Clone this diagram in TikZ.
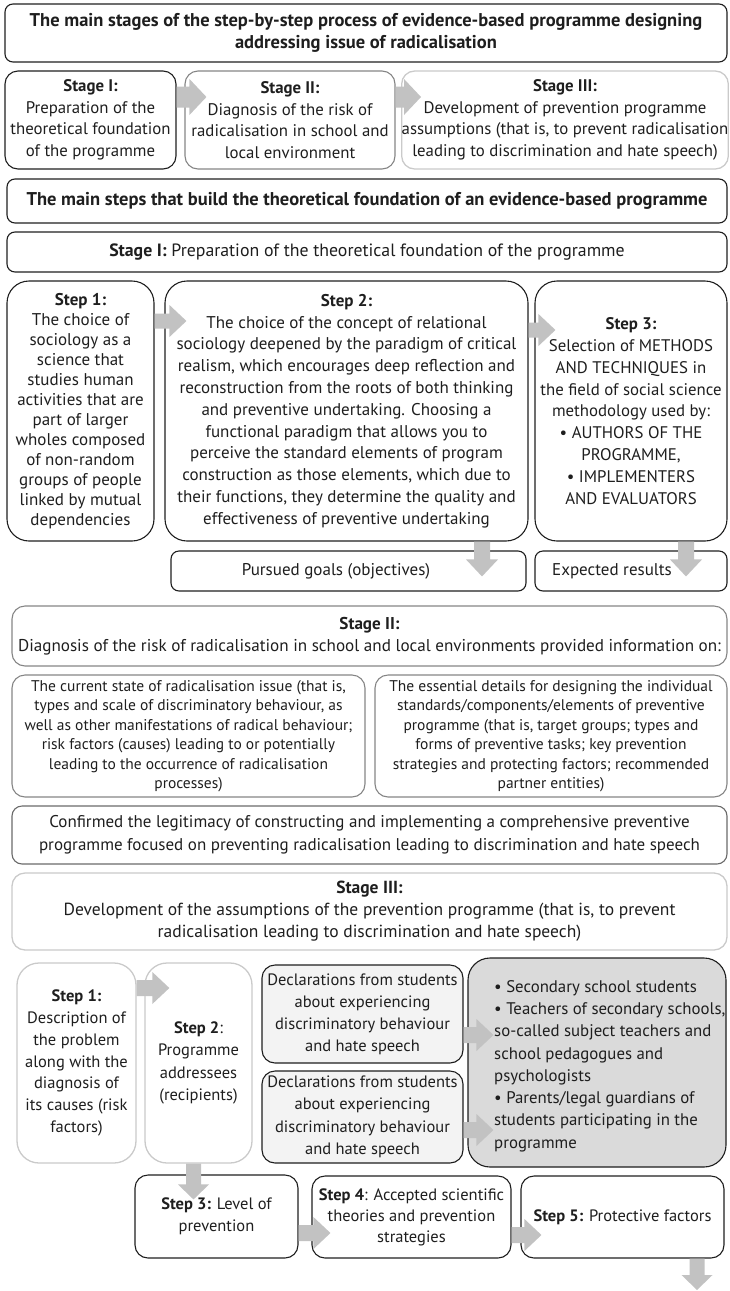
\documentclass[tikz,border=0pt]{standalone}
\usepackage{fontspec}
\setmainfont{PT Sans}
\usetikzlibrary{calc}

\definecolor{ink}{HTML}{1E1E1E}
\definecolor{arrowgray}{HTML}{C2C2C2}
\definecolor{midline}{HTML}{858585}
\definecolor{darkline}{HTML}{6A6A6A}
\definecolor{paleline}{HTML}{CACACA}
\definecolor{declfill}{HTML}{F3F3F3}
\definecolor{groupfill}{HTML}{DADADA}

\tikzset{
  panel/.style={draw=ink, line width=1.1pt, rounded corners=9pt, inner sep=0pt,
    align=center, text=ink, font=\fontsize{17}{21}\selectfont},
  headfont/.style={font=\fontsize{18.5}{22}\bfseries\selectfont},
  biground/.style={rounded corners=22pt},
  midround/.style={rounded corners=13pt},
  greyedge/.style={draw=midline},
  darkedge/.style={draw=darkline},
  paleedge/.style={draw=paleline, line width=1.3pt},
  plaintext/.style={inner sep=0pt, text=ink, font=\fontsize{17}{21}\selectfont},
}

% box given by its corners: [style]{name}{x1}{y1}{x2}{y2}{text}
\newcommand\panelbox[7][]{%
  \pgfmathsetmacro\pw{#5-#3}\pgfmathsetmacro\ph{#6-#4}%
  \node[panel,#1,minimum width=\pw pt,minimum height=\ph pt] (#2)
    at ({(#3+#5)/2},{(#4+#6)/2}) {#7};}

% right-pointing block arrow: {start}{tip}{body half}{head half}{head length}
\newcommand\rightblock[5]{%
  \fill[arrowgray] let \p1=(#1), \p2=(#2) in
    (\x1,\y1+#3pt) -- (\x2-#5pt,\y1+#3pt) -- (\x2-#5pt,\y1+#4pt) -- (\x2,\y1)
    -- (\x2-#5pt,\y1-#4pt) -- (\x2-#5pt,\y1-#3pt) -- (\x1,\y1-#3pt) -- cycle;}
% downward block arrow: {start}{tip}{body half}{head half}{head length}
\newcommand\downblock[5]{%
  \fill[arrowgray] let \p1=(#1), \p2=(#2) in
    (\x1-#3pt,\y1) -- (\x1-#3pt,\y2+#5pt) -- (\x1-#4pt,\y2+#5pt) -- (\x1,\y2)
    -- (\x1+#4pt,\y2+#5pt) -- (\x1+#3pt,\y2+#5pt) -- (\x1+#3pt,\y1) -- cycle;}

\begin{document}
\begin{tikzpicture}[x=1pt,y=-1pt]
\useasboundingbox (0,0) rectangle (730,1291);

% ---------- overview of the three stages ----------
\panelbox[headfont,rounded corners=8pt]{title}{5}{4}{727}{62}{The main stages of the step-by-step process of evidence-based programme designing\\addressing issue of radicalisation}
\panelbox[midround,font=\fontsize{16.8}{21.5}\selectfont]{st1}{5}{71}{176}{169}{\textbf{Stage I:}\\Preparation of the\\theoretical foundation\\of the programme}
\panelbox[midround,greyedge,font=\fontsize{16.8}{21.5}\selectfont]{st2}{185}{71}{395}{169}{\textbf{Stage II:}\\Diagnosis of the risk of\\radicalisation in school and\\local environment}
\panelbox[midround,paleedge,font=\fontsize{16.8}{21.5}\selectfont]{st3}{403}{71}{727}{169}{\textbf{Stage III:}\\Development of prevention programme\\assumptions (that is, to prevent radicalisation\\leading to discrimination and hate speech)}

% ---------- stage I ----------
\panelbox[headfont,rounded corners=8pt]{mainsteps}{7}{179}{727}{223}{The main steps that build the theoretical foundation of an evidence-based programme}
\panelbox[rounded corners=8pt,font=\fontsize{17.8}{21}\selectfont]{stageone}{7}{232}{727}{272}{\textbf{Stage I:} Preparation of the theoretical foundation of the programme}

\panelbox[biground,font=\fontsize{17}{20}\selectfont]{s1}{7}{281}{154}{541}{\textbf{Step 1:}\\The choice of\\sociology as a\\science that\\studies human\\activities that are\\part of larger\\wholes composed\\of non-random\\groups of people\\linked by mutual\\dependencies}
\panelbox[biground,font=\fontsize{17}{21.8}\selectfont]{s2}{165}{281}{528}{541}{\textbf{Step 2:}\\The choice of the concept of relational\\sociology deepened by the paradigm of critical\\realism, which encourages deep reflection and\\reconstruction from the roots of both thinking\\and preventive undertaking. Choosing a\\functional paradigm that allows you to\\perceive the standard elements of program\\construction as those elements, which due to\\their functions, they determine the quality and\\effectiveness of preventive undertaking}
\panelbox[biground,font=\fontsize{16.8}{21.8}\selectfont]{s3}{535}{281}{727}{541}{\textbf{Step 3:}\\Selection of METHODS\\AND TECHNIQUES in\\the field of social science\\methodology used by:\\• AUTHORS OF THE\\PROGRAMME,\\• IMPLEMENTERS\\AND EVALUATORS}

\panelbox[rounded corners=8pt]{goals}{171}{551}{526}{591}{}
\node[plaintext] (goalstext) at (336,571) {Pursued goals (objectives)};
\panelbox[rounded corners=8pt]{results}{535}{551}{727}{591}{}
\node[plaintext] (resultstext) at (612,571) {Expected results};

% ---------- stage II ----------
\panelbox[midround,greyedge,font=\fontsize{17.1}{22}\selectfont]{stagetwo}{12}{606}{727}{666}{\textbf{Stage II:}\\Diagnosis of the risk of radicalisation in school and local environments provided information on:}
\panelbox[midround,greyedge,font=\fontsize{15.5}{19.5}\selectfont]{current}{12}{675}{365}{797}{The current state of radicalisation issue (that is,\\types and scale of discriminatory behaviour, as\\well as other manifestations of radical behaviour;\\risk factors (causes) leading to or potentially\\leading to the occurrence of radicalisation\\processes)}
\panelbox[midround,greyedge,font=\fontsize{15.5}{19.5}\selectfont]{essential}{375}{675}{727}{797}{The essential details for designing the individual\\standards/components/elements of preventive\\programme (that is, target groups; types and\\forms of preventive tasks; key prevention\\strategies and protecting factors; recommended\\partner entities)}
\panelbox[rounded corners=10pt,darkedge,font=\fontsize{17}{23}\selectfont]{confirm}{12}{806}{727}{864}{Confirmed the legitimacy of constructing and implementing a comprehensive preventive\\programme focused on preventing radicalisation leading to discrimination and hate speech}

% ---------- stage III ----------
\panelbox[midround,paleedge,font=\fontsize{17.5}{22}\selectfont]{stagethree}{12}{873}{727}{950}{\textbf{Stage III:}\\Development of the assumptions of the prevention programme (that is, to prevent\\radicalisation leading to discrimination and hate speech)}

\panelbox[biground,paleedge,font=\fontsize{16.5}{21.7}\selectfont]{b1}{17}{963}{136}{1163}{\textbf{Step 1:}\\Description of\\the problem\\along with the\\diagnosis of\\its causes (risk\\factors)}
\panelbox[biground,paleedge,font=\fontsize{16.5}{22.5}\selectfont]{b2}{145}{963}{252}{1163}{\textbf{Step 2}:\\Programme\\addressees\\(recipients)}
\panelbox[midround,fill=declfill,font=\fontsize{16.5}{22}\selectfont]{dec1}{262}{965}{463}{1063}{Declarations from students\\about experiencing\\discriminatory behaviour\\and hate speech}
\panelbox[midround,fill=declfill,font=\fontsize{16.5}{22.5}\selectfont]{dec2}{262}{1071}{463}{1163}{Declarations from students\\about experiencing\\discriminatory behaviour\\and hate speech}
\panelbox[biground,fill=groupfill]{group}{468}{958}{726}{1167}{}
\node[plaintext,anchor=west,align=left,font=\fontsize{16.8}{22.3}\selectfont] (grouptext) at (494,1066)
  {• Secondary school students\\• Teachers of secondary schools,\\so-called subject teachers and\\school pedagogues and\\psychologists\\• Parents/legal guardians of\\students participating in the\\programme};

\panelbox[midround,font=\fontsize{16.5}{22}\selectfont]{b3}{135}{1175}{298}{1258}{\textbf{Step 3:} Level of\\prevention}
\panelbox[midround,font=\fontsize{16.5}{21}\selectfont]{b4}{312}{1176}{511}{1258}{\textbf{Step 4}: Accepted scientific\\theories and prevention\\strategies}
\panelbox[midround,font=\fontsize{16.5}{21}\selectfont]{b5}{521}{1176}{724}{1258}{\textbf{Step 5:} Protective factors}

% ---------- block arrows ----------
\rightblock{st1.east |- 0,97}{$(st2.west |- 0,97)+(22,0)$}{10.5}{18}{17}
\rightblock{st2.east |- 0,97}{$(st3.west |- 0,97)+(20,0)$}{10.5}{18}{17}
\rightblock{s1.east |- 0,321}{$(s2.west |- 0,321)+(22,0)$}{7.5}{16}{17}
\rightblock{s2.east |- 0,330}{$(s3.west |- 0,330)+(21,0)$}{7.5}{16}{17}
\downblock{s2.south -| 482,0}{$(goals.north -| 482,0)+(0,26)$}{8}{16}{17}
\downblock{s3.south -| 686,0}{$(results.north -| 686,0)+(0,26)$}{8}{16}{17}

\rightblock{b1.east |- 0,988}{$(b2.west |- 0,988)+(25,0)$}{8}{16}{17}
\rightblock{dec1.east |- 0,1035}{$(group.west |- 0,1035)+(26,0)$}{8}{16}{17}
\rightblock{dec2.east |- 0,1130}{$(group.west |- 0,1130)+(26,0)$}{8}{16}{17}
\downblock{b2.south -| 193.5,0}{$(b3.north -| 193.5,0)+(0,25)$}{7.5}{15.5}{15}
\rightblock{b3.east |- 0,1233}{$(b4.west |- 0,1233)+(19,0)$}{8}{16}{17}
\rightblock{b4.east |- 0,1235}{$(b5.west |- 0,1235)+(21,0)$}{8}{16}{17}
\coordinate (finalend) at (697,1290);
\downblock{b5.south -| 697,0}{finalend}{7.5}{15.5}{15}
\end{tikzpicture}
\end{document}
